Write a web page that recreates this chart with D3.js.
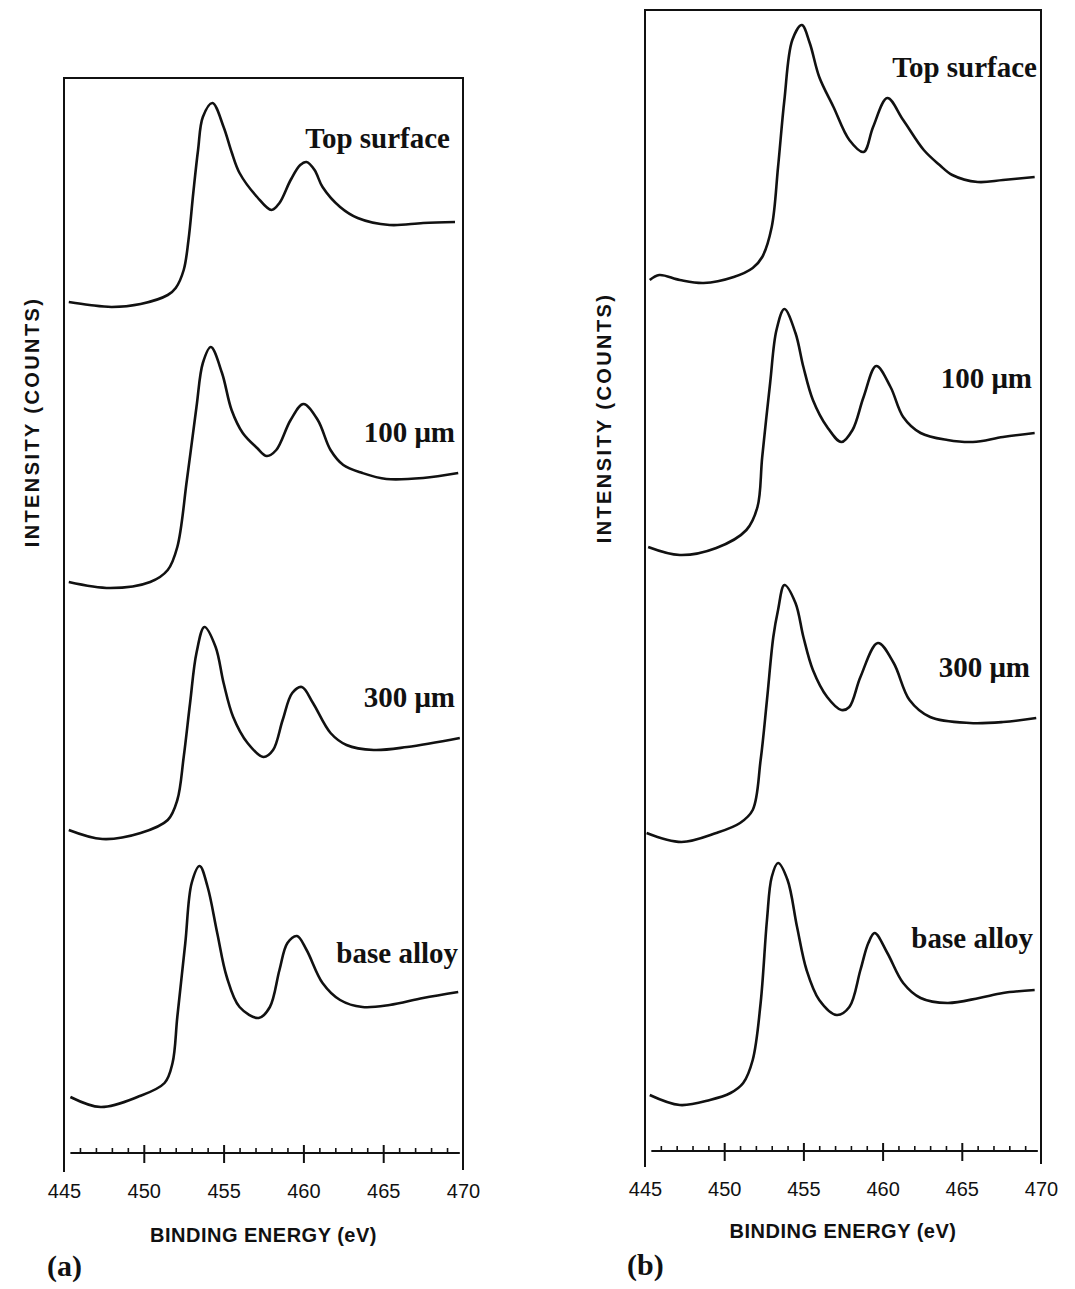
<!DOCTYPE html>
<html>
<head>
<meta charset="utf-8">
<script src="https://cdn.jsdelivr.net/npm/d3@7"></script>
<style>
  body { margin: 0; background: #fff; }
  .tick-label { font-family: "Liberation Sans", Arial, sans-serif; font-size: 20px; fill: #111; }
  .axis-title { font-family: "Liberation Sans", Arial, sans-serif; font-size: 20px; font-weight: bold; fill: #111; }
  .series-label { font-family: "Liberation Serif", "Times New Roman", serif; font-size: 29px; font-weight: bold; fill: #111; }
  .panel-tag { font-family: "Liberation Serif", "Times New Roman", serif; font-size: 30px; font-weight: bold; fill: #111; }
</style>
</head>
<body>
<div id="chart"></div>
<script>
// binding energy ticks (eV)
const majorTicks = [445, 450, 455, 460, 465, 470];
const minorTicks = d3.range(446, 470).filter(d => d % 5 !== 0);
const seriesLabels = ["Top surface", "100 \u03bcm", "300 \u03bcm", "base alloy"];

// panel (a) - intensity in arbitrary counts, stacked
const energyATop = [445.3, 446.6, 448.0, 449.8, 451.5, 452.0, 452.5, 452.8, 453.1, 453.4, 453.7, 454.3, 455.0, 455.5, 456.0, 457.1, 458.0, 458.5, 459.2, 459.8, 460.2, 460.7, 461.2, 462.3, 463.4, 465.4, 467.5, 469.5];
const countsATop = [851, 848, 846, 849, 858, 865, 883, 913, 960, 1003, 1036, 1050, 1026, 1001, 980, 956, 943, 950, 973, 988, 991, 983, 966, 946, 935, 928, 930, 931];

const energyA100 = [445.3, 447.9, 450.4, 451.5, 452.1, 452.7, 453.3, 453.7, 454.2, 454.9, 455.5, 456.2, 457.1, 457.7, 458.3, 459.2, 460.0, 460.9, 461.7, 462.5, 463.7, 465.2, 467.5, 469.7];
const countsA100 = [571, 565, 571, 583, 606, 673, 746, 790, 806, 780, 743, 720, 705, 697, 703, 733, 749, 733, 703, 688, 680, 674, 675, 680];

const energyA300 = [445.3, 447.4, 449.8, 451.5, 452.1, 452.5, 452.9, 453.3, 453.8, 454.5, 455.0, 455.6, 456.5, 457.5, 458.1, 458.7, 459.3, 459.9, 460.6, 461.7, 462.7, 464.4, 466.5, 469.8];
const countsA300 = [323, 314, 320, 333, 353, 396, 450, 500, 526, 506, 470, 436, 410, 396, 403, 433, 460, 466, 450, 420, 408, 403, 406, 415];

const energyABase = [445.4, 447.3, 449.6, 451.3, 451.8, 452.1, 452.6, 453.0, 453.5, 454.0, 454.6, 455.2, 456.0, 457.2, 457.9, 458.5, 459.0, 459.6, 460.2, 461.2, 462.3, 463.7, 465.4, 467.5, 469.7];
const countsABase = [56, 46, 56, 70, 90, 136, 210, 270, 287, 266, 220, 176, 146, 135, 146, 183, 210, 217, 203, 170, 153, 146, 148, 155, 161];

// panel (b)
const energyBTop = [445.3, 445.9, 447.2, 448.7, 450.6, 451.8, 452.4, 453.0, 453.4, 453.8, 454.3, 454.9, 455.4, 456.0, 456.9, 457.9, 458.8, 459.4, 460.3, 461.3, 462.6, 463.6, 464.4, 466.0, 467.6, 469.6];
const countsBTop = [871, 876, 871, 868, 874, 883, 894, 924, 984, 1051, 1111, 1126, 1108, 1074, 1044, 1011, 999, 1024, 1053, 1031, 1001, 986, 976, 969, 971, 974];

const energyB100 = [445.2, 447.2, 449.5, 451.4, 452.1, 452.4, 452.9, 453.3, 453.8, 454.5, 455.0, 455.6, 456.5, 457.4, 458.1, 458.8, 459.6, 460.5, 461.3, 462.4, 464.1, 465.7, 467.6, 469.6];
const countsB100 = [604, 596, 603, 621, 644, 694, 768, 821, 842, 818, 784, 751, 724, 709, 721, 754, 785, 764, 734, 718, 711, 709, 714, 718];

const energyB300 = [445.1, 447.3, 449.5, 451.0, 451.8, 452.3, 452.7, 453.1, 453.4, 453.8, 454.5, 455.0, 455.6, 456.5, 457.4, 457.9, 458.6, 459.7, 460.7, 461.7, 463.0, 465.5, 467.6, 469.7];
const countsB300 = [318, 309, 318, 328, 341, 391, 451, 514, 541, 566, 548, 514, 481, 454, 441, 444, 474, 508, 488, 451, 434, 428, 429, 433];

const energyBBase = [445.3, 447.2, 449.1, 450.4, 451.2, 451.8, 452.3, 452.7, 453.0, 453.4, 454.0, 454.6, 455.2, 456.0, 457.1, 457.9, 458.6, 459.1, 459.5, 460.3, 461.3, 462.4, 464.1, 466.1, 467.6, 469.6];
const countsBBase = [56, 46, 51, 58, 68, 91, 148, 231, 274, 288, 271, 224, 181, 151, 136, 144, 181, 208, 218, 198, 168, 153, 148, 153, 158, 161];

const panels = [
  {
    tag: "(a)", xRange: [64, 463], axisY: 1153, top: 78, yMax: 1075,
    series: [[energyATop, countsATop], [energyA100, countsA100], [energyA300, countsA300], [energyABase, countsABase]],
    labelPos: [[450, 148], [455, 442], [455, 707], [458, 963]],
    yTitleX: 39, yTitleY: 422, xTitleY: 1242, tagX: 47, tagY: 1276, boxBottom: [1172, 1170]
  },
  {
    tag: "(b)", xRange: [645, 1041], axisY: 1151, top: 10, yMax: 1141,
    series: [[energyBTop, countsBTop], [energyB100, countsB100], [energyB300, countsB300], [energyBBase, countsBBase]],
    labelPos: [[1037, 77], [1032, 388], [1030, 677], [1033, 948]],
    yTitleX: 611, yTitleY: 418, xTitleY: 1238, tagX: 627, tagY: 1275, boxBottom: [1167, 1164]
  }
];

const svg = d3.select("#chart").append("svg")
    .attr("width", 1075)
    .attr("height", 1289);

function drawPanel(p) {
    const g = svg.append("g");

    const x = d3.scaleLinear()
        .domain([445, 470])
        .range(p.xRange);

    const y = d3.scaleLinear()
        .domain([0, p.yMax])
        .range([p.axisY, p.top]);

    // open frame: top and two sides, sides drop below the axis
    g.append("path")
        .attr("d", `M${x(445)},${p.boxBottom[0]} L${x(445)},${p.top} L${x(470)},${p.top} L${x(470)},${p.boxBottom[1]}`)
        .attr("fill", "none")
        .attr("stroke", "#111")
        .attr("stroke-width", 2);

    // minor ticks point up from the axis line
    g.append("g")
        .attr("transform", `translate(0, ${p.axisY})`)
        .call(d3.axisTop(x).tickValues(minorTicks).tickSize(5).tickFormat(""))
        .call(a => a.select(".domain").remove())
        .selectAll("line").attr("stroke", "#111").attr("stroke-width", 1.6);

    const xAxis = g.append("g")
        .attr("transform", `translate(0, ${p.axisY})`)
        .call(d3.axisBottom(x).tickValues(majorTicks).tickSizeOuter(0));

    xAxis.select(".domain")
        .attr("d", `M${x(445.4)},0H${x(469.8)}`)
        .attr("stroke", "#111")
        .attr("stroke-width", 2);

    xAxis.selectAll(".tick line")
        .attr("y1", -8)
        .attr("y2", 10)
        .attr("stroke", "#111")
        .attr("stroke-width", 2)
        .filter(d => d === 445 || d === 470).remove();

    xAxis.selectAll(".tick text")
        .attr("class", "tick-label")
        .attr("y", 31)
        .attr("dy", "0.71em")
        .attr("font-size", null)
        .attr("font-family", null)
        .attr("fill", null);
    xAxis.attr("font-size", null).attr("font-family", null);

    const line = d3.line()
        .x(d => x(d[0]))
        .y(d => y(d[1]))
        .curve(d3.curveCatmullRom.alpha(0.5));

    p.series.forEach(([energy, counts], i) => {
        g.append("path")
            .datum(d3.zip(energy, counts))
            .attr("d", line)
            .attr("fill", "none")
            .attr("stroke", "#111")
            .attr("stroke-width", 2.6)
            .attr("stroke-linejoin", "round");

        g.append("text")
            .attr("class", "series-label")
            .attr("x", p.labelPos[i][0])
            .attr("y", p.labelPos[i][1])
            .attr("text-anchor", "end")
            .text(seriesLabels[i]);
    });

    g.append("text")
        .attr("class", "axis-title")
        .attr("transform", `translate(${p.yTitleX}, ${p.yTitleY}) rotate(-90)`)
        .attr("text-anchor", "middle")
        .attr("letter-spacing", 2.4)
        .text("INTENSITY (COUNTS)");

    g.append("text")
        .attr("class", "axis-title")
        .attr("x", (p.xRange[0] + p.xRange[1]) / 2)
        .attr("y", p.xTitleY)
        .attr("text-anchor", "middle")
        .attr("letter-spacing", 0.5)
        .text("BINDING ENERGY (eV)");

    g.append("text")
        .attr("class", "panel-tag")
        .attr("x", p.tagX)
        .attr("y", p.tagY)
        .text(p.tag);
}

panels.forEach(drawPanel);
</script>
</body>
</html>
